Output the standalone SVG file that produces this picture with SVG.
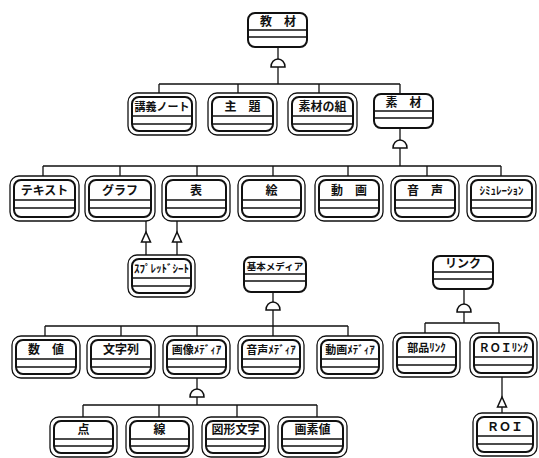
<svg xmlns="http://www.w3.org/2000/svg" width="539" height="458" viewBox="0 0 539 458">
<style>
.o{fill:#fff;stroke:#111;stroke-width:1.3}
.i{fill:none;stroke:#111;stroke-width:2}
.s{fill:#fff;stroke:#111;stroke-width:2}
.l{stroke:#111;stroke-width:1.3}
.c{fill:none;stroke:#111;stroke-width:1.3}
.d{fill:#fff;stroke:#111;stroke-width:1.5}
text{font-family:"Noto Sans CJK JP","Noto Sans",sans-serif;font-weight:bold;font-size:12px;fill:#111;text-anchor:middle}
.h{font-size:11px}
.k{font-size:9.5px}
</style>
<rect width="539" height="458" fill="#fff"/>
<g id="connectors">
<path class="c" d="M278,47V84M159,84H400M159,84V93M238,84V93M319,84V93M400,84V94"/>
<path class="d" d="M271,67A7,8 0 0 1 285,67Z"/>
<path class="c" d="M400,128V166M43,166H501M43,166V176M120,166V176M197,166V176M273,166V176M348,166V176M427,166V176M501,166V176"/>
<path class="d" d="M393,148A7,8 0 0 1 407,148Z"/>
<path class="c" d="M146,221V255M177,221V255"/>
<polygon class="d" points="146,232 141.5,242 150.5,242"/>
<polygon class="d" points="177,232 172.5,242 181.5,242"/>
<path class="c" d="M273,292V326M45,326H348M45,326V336M121,326V336M197,326V336M273,326V336M348,326V336"/>
<path class="d" d="M266,310A7,8 0 0 1 280,310Z"/>
<path class="c" d="M197,378V405M83,405H317M83,405V417M159,405V417M237,405V417M317,405V417"/>
<path class="d" d="M190,397A7,8 0 0 1 204,397Z"/>
<path class="c" d="M464,289V323M425,323H499M425,323V333M499,323V333"/>
<path class="d" d="M457,312A7,8 0 0 1 471,312Z"/>
<path class="c" d="M502,377V413"/>
<polygon class="d" points="502,397 497.5,407 506.5,407"/>
</g>
<g id="n-kyozai"><rect class="s" x="248" y="13" width="59" height="34" rx="7"/><path class="l" d="M248,30H307M248,37H307"/><text x="278" y="26">教　材</text></g>
<g id="n-kogi"><rect class="o" x="128" y="93" width="68" height="42" rx="9"/><rect class="i" x="132" y="97" width="60" height="34" rx="7"/><path class="l" d="M132,116H192M132,124H192"/><text x="162" y="111" class="h">講義ノート</text></g>
<g id="n-shudai"><rect class="o" x="208" y="93" width="69" height="42" rx="9"/><rect class="i" x="212" y="97" width="61" height="34" rx="7"/><path class="l" d="M212,116H273M212,124H273"/><text x="242.5" y="111">主　題</text></g>
<g id="n-sozainokumi"><rect class="o" x="288" y="93" width="69" height="42" rx="9"/><rect class="i" x="292" y="97" width="61" height="34" rx="7"/><path class="l" d="M292,116H353M292,124H353"/><text x="322.5" y="111">素材の組</text></g>
<g id="n-sozai"><rect class="s" x="374" y="94" width="59" height="34" rx="7"/><path class="l" d="M374,111H433M374,118H433"/><text x="403.5" y="107">素　材</text></g>
<g id="n-text"><rect class="o" x="10" y="176" width="69" height="45" rx="9"/><rect class="i" x="14" y="180" width="61" height="37" rx="7"/><path class="l" d="M14,200H75M14,208H75"/><text x="44.5" y="195">テキスト</text></g>
<g id="n-graph"><rect class="o" x="85" y="176" width="70" height="45" rx="9"/><rect class="i" x="89" y="180" width="62" height="37" rx="7"/><path class="l" d="M89,200H151M89,208H151"/><text x="120" y="195">グラフ</text></g>
<g id="n-hyo"><rect class="o" x="162" y="176" width="68" height="45" rx="9"/><rect class="i" x="166" y="180" width="60" height="37" rx="7"/><path class="l" d="M166,200H226M166,208H226"/><text x="196" y="195">表</text></g>
<g id="n-e"><rect class="o" x="238" y="176" width="67" height="45" rx="9"/><rect class="i" x="242" y="180" width="59" height="37" rx="7"/><path class="l" d="M242,200H301M242,208H301"/><text x="271.5" y="195">絵</text></g>
<g id="n-doga"><rect class="o" x="315" y="176" width="68" height="45" rx="9"/><rect class="i" x="319" y="180" width="60" height="37" rx="7"/><path class="l" d="M319,200H379M319,208H379"/><text x="349" y="195">動　画</text></g>
<g id="n-onsei"><rect class="o" x="391" y="176" width="68" height="45" rx="9"/><rect class="i" x="395" y="180" width="60" height="37" rx="7"/><path class="l" d="M395,200H455M395,208H455"/><text x="425" y="195">音　声</text></g>
<g id="n-sim"><rect class="o" x="467" y="176" width="69" height="45" rx="9"/><rect class="i" x="471" y="180" width="61" height="37" rx="7"/><path class="l" d="M471,200H532M471,208H532"/><text x="501.5" y="195" class="h">ｼﾐｭﾚｰｼｮﾝ</text></g>
<g id="n-spread"><rect class="o" x="128" y="255" width="67" height="42" rx="9"/><rect class="i" x="132" y="259" width="59" height="34" rx="7"/><path class="l" d="M132,278H191M132,286H191"/><text x="161.5" y="273" class="h">ｽﾌﾟﾚｯﾄﾞｼｰﾄ</text></g>
<g id="n-kihon"><rect class="s" x="244" y="257" width="62" height="35" rx="7"/><path class="l" d="M244,274H306M244,281H306"/><text x="275" y="270" class="k">基本メディア</text></g>
<g id="n-link"><rect class="s" x="433" y="256" width="60" height="33" rx="7"/><path class="l" d="M433,272H493M433,279H493"/><text x="463" y="268">リンク</text></g>
<g id="n-suchi"><rect class="o" x="12" y="336" width="68" height="42" rx="9"/><rect class="i" x="16" y="340" width="60" height="34" rx="7"/><path class="l" d="M16,359H76M16,367H76"/><text x="46" y="354">数　値</text></g>
<g id="n-mojiretsu"><rect class="o" x="87" y="336" width="68" height="42" rx="9"/><rect class="i" x="91" y="340" width="60" height="34" rx="7"/><path class="l" d="M91,359H151M91,367H151"/><text x="121" y="354">文字列</text></g>
<g id="n-gazo"><rect class="o" x="163" y="336" width="67" height="42" rx="9"/><rect class="i" x="167" y="340" width="59" height="34" rx="7"/><path class="l" d="M167,359H226M167,367H226"/><text x="196.5" y="354" class="h">画像ﾒﾃﾞｨｱ</text></g>
<g id="n-onseimedia"><rect class="o" x="238" y="336" width="66" height="42" rx="9"/><rect class="i" x="242" y="340" width="58" height="34" rx="7"/><path class="l" d="M242,359H300M242,367H300"/><text x="271" y="354" class="h">音声ﾒﾃﾞｨｱ</text></g>
<g id="n-dogamedia"><rect class="o" x="317" y="336" width="66" height="42" rx="9"/><rect class="i" x="321" y="340" width="58" height="34" rx="7"/><path class="l" d="M321,359H379M321,367H379"/><text x="350" y="354" class="h">動画ﾒﾃﾞｨｱ</text></g>
<g id="n-buhin"><rect class="o" x="393" y="333" width="67" height="44" rx="9"/><rect class="i" x="397" y="337" width="59" height="36" rx="7"/><path class="l" d="M397,357H456M397,365H456"/><text x="426.5" y="352" class="h">部品ﾘﾝｸ</text></g>
<g id="n-roilink"><rect class="o" x="470" y="333" width="67" height="44" rx="9"/><rect class="i" x="474" y="337" width="59" height="36" rx="7"/><path class="l" d="M474,357H533M474,365H533"/><text x="503.5" y="352" class="h">ＲＯＩﾘﾝｸ</text></g>
<g id="n-ten"><rect class="o" x="50" y="417" width="67" height="40" rx="9"/><rect class="i" x="54" y="421" width="59" height="32" rx="7"/><path class="l" d="M54,439H113M54,446H113"/><text x="83.5" y="434">点</text></g>
<g id="n-sen"><rect class="o" x="126" y="417" width="67" height="40" rx="9"/><rect class="i" x="130" y="421" width="59" height="32" rx="7"/><path class="l" d="M130,439H189M130,446H189"/><text x="159.5" y="434">線</text></g>
<g id="n-zukei"><rect class="o" x="202" y="417" width="67" height="40" rx="9"/><rect class="i" x="206" y="421" width="59" height="32" rx="7"/><path class="l" d="M206,439H265M206,446H265"/><text x="235.5" y="434">図形文字</text></g>
<g id="n-gaso"><rect class="o" x="278" y="417" width="69" height="40" rx="9"/><rect class="i" x="282" y="421" width="61" height="32" rx="7"/><path class="l" d="M282,439H343M282,446H343"/><text x="312.5" y="434">画素値</text></g>
<g id="n-roi"><rect class="o" x="473" y="413" width="64" height="43" rx="9"/><rect class="i" x="477" y="417" width="56" height="35" rx="7"/><path class="l" d="M477,436H533M477,444H533"/><text x="505" y="431">ＲＯＩ</text></g>
</svg>
